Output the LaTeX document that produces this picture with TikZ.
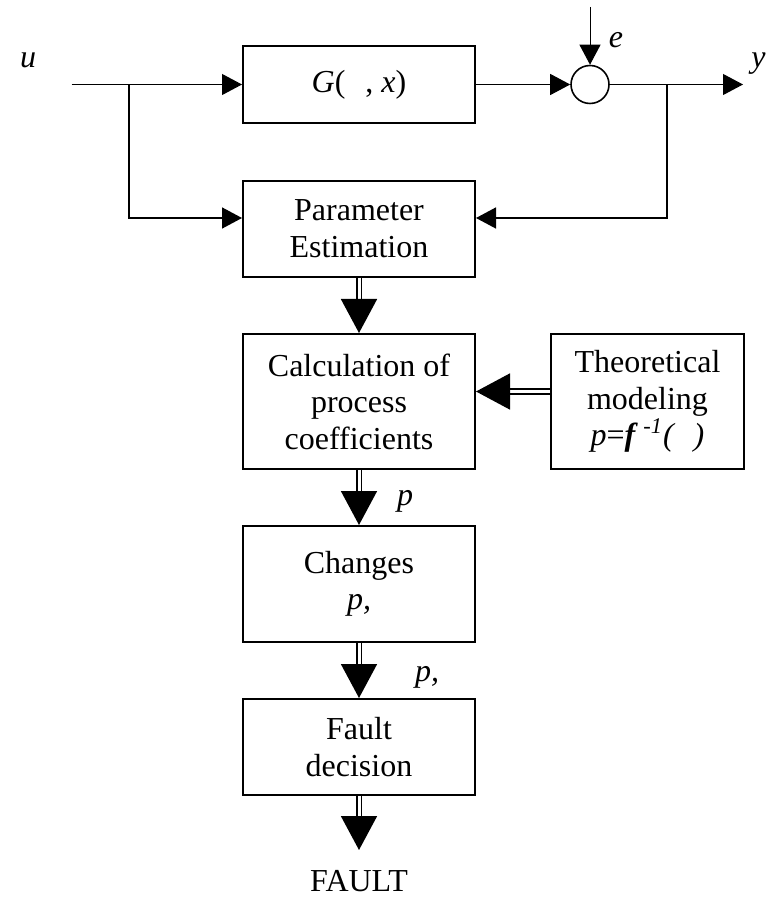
\documentclass[tikz,border=0pt]{standalone}
\usepackage{fontspec}
\setmainfont{Liberation Serif}
\usetikzlibrary{arrows.meta}
\tikzset{block/.style = {draw=black, line width=1pt, minimum width=116pt, inner sep=0pt, align=center}}
\tikzset{sig/.style = {line width=0.5pt, -{Triangle[length=10pt,width=10.5pt]}}}
\tikzset{fb/.style = {sig, line width=0.75pt}}
\tikzset{dbl/.style = {double, line width=0.85pt, double distance=1.5pt, -{Triangle[length=17pt,width=18pt]}}}

\begin{document}
\begin{tikzpicture}[x=0.5pt, y=-0.5pt, font=\fontsize{16}{18.2}\selectfont]
            \useasboundingbox (0,0) rectangle (768,897);

            \node [block, minimum height=38.5pt] (plant) at (359,84.5) {\textit{G}(\hspace{10pt}, \textit{x})};
            \node [circle, draw=black, line width=0.8pt, minimum size=19pt, inner sep=0pt] (sum) at (590,84.5) {};
            \node [block, minimum height=48pt] (pe) at (359,228.7) {Parameter\\Estimation};
            \node [block, minimum height=67.5pt] (calc) at (359,401.5) {Calculation of\\process\\coefficients};
            \node [block, minimum width=96.5pt, minimum height=67.5pt] (theo) at (647.5,401.5)
                {Theoretical\\modeling\\\textit{p}=\textbf{\textit{f}}\,\textsuperscript{\textit{-1}}\textit{(\hspace{10pt})}};
            \node [block, minimum height=58pt] (chg) at (359,584) {Changes\\\textit{p,}\hspace{14pt}};
            \node [block, minimum height=48pt] (fault) at (359,747) {Fault\\decision};
            \node (faultout) at (359,881) {FAULT};

            \coordinate (in) at (71.5,84.5);
            \coordinate (ubr) at (129,84.5);
            \coordinate (ybr) at (667,84.5);
            \coordinate (out) at (743,84.5);
            \coordinate (etop) at (590,7);
            \coordinate (fend) at (359,850);

            \node (ulab) at (28,60) {\textit{u}};
            \node (elab) at (616,40) {\textit{e}};
            \node [anchor=west, inner sep=0pt] (ylab) at (751,64) {\textit{y}};
            \node (plab) at (405,501) {\textit{p}};
            \node (pclab) at (427,677) {\textit{p,}};

            \draw [sig] (in) -- (plant.west);
            \draw [sig] (plant.east) -- (sum.west);
            \draw [sig] (etop) -- (sum.north);
            \draw [sig] (sum.east) -- (out);
            \draw [fb] (ubr) |- ([yshift=5.35pt]pe.west);
            \draw [fb] (ybr) |- ([yshift=5.35pt]pe.east);

            \draw [dbl] (pe) -- (calc);
            \draw [dbl] ([yshift=5pt]theo.west) -- ([yshift=5pt]calc.east);
            \draw [dbl] (calc) -- (chg);
            \draw [dbl] (chg) -- (fault);
            \draw [dbl] (fault) -- (fend);
        \end{tikzpicture}
\end{document}
